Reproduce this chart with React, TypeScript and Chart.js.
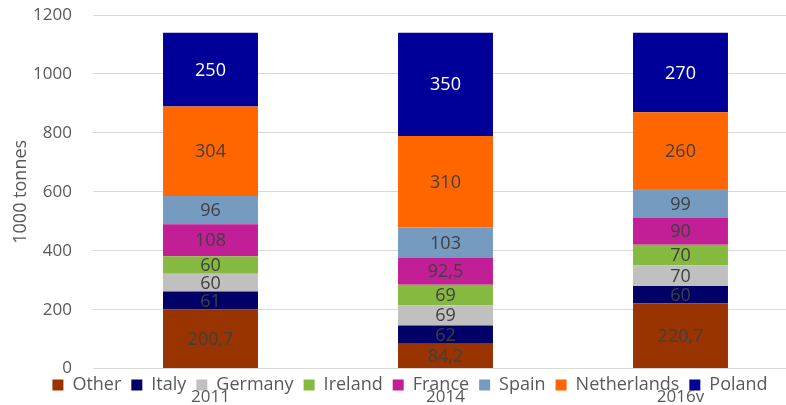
import React, { useEffect, useRef } from "react";
import { Chart, registerables } from "chart.js";

Chart.register(...registerables);

const categories = ["2011", "2014", "2016v"];
const seriesNames = ["Other", "Italy", "Germany", "Ireland", "France", "Spain", "Netherlands", "Poland"];
const otherValues = [200.7, 84.2, 220.7];
const italyValues = [61, 62, 60];
const germanyValues = [60, 69, 70];
const irelandValues = [60, 69, 70];
const franceValues = [108, 92.5, 90];
const spainValues = [96, 103, 99];
const netherlandsValues = [304, 310, 260];
const polandValues = [250, 350, 270];
const yTicks = [0, 200, 400, 600, 800, 1000, 1200];

const seriesValues = [
  otherValues, italyValues, germanyValues, irelandValues,
  franceValues, spainValues, netherlandsValues, polandValues,
];
const seriesColors = ["#993300", "#000066", "#C0C0C0", "#86B93F", "#C21F96", "#759BC0", "#FF6600", "#000099"];
const labelColors = ["#404040", "#404040", "#404040", "#404040", "#404040", "#404040", "#404040", "#FFFFFF"];

const FONT = "'Open Sans', sans-serif";
const CANVAS_W = 800;
const CANVAS_H = 465;
const LEGEND_TOP = 366;
const LEGEND_SHIFT_X = 11;
const Y_AXIS_WIDTH = 93;

const fmt = (v: number) => String(v).replace(".", ",");

const barLabels = {
  id: "barLabels",
  afterDatasetsDraw(chart: any) {
    const ctx = chart.ctx;
    ctx.save();
    ctx.font = `18px ${FONT}`;
    ctx.textAlign = "center";
    ctx.textBaseline = "middle";
    chart.data.datasets.forEach((ds: any, i: number) => {
      const meta = chart.getDatasetMeta(i);
      meta.data.forEach((bar: any, j: number) => {
        const p = bar.getProps(["x", "y", "base"], true);
        ctx.fillStyle = labelColors[i];
        ctx.fillText(fmt(ds.data[j]), p.x, (p.y + p.base) / 2 + 1);
      });
    });
    ctx.restore();
  },
};

const legendMove = {
  id: "legendMove",
  afterLayout(chart: any) {
    const lg = chart.legend;
    if (!lg) return;
    const dy = LEGEND_TOP - lg.top;
    lg.top += dy;
    lg.bottom += dy;
    lg.left += LEGEND_SHIFT_X;
    lg.right += LEGEND_SHIFT_X;
  },
};

export default function App() {
  const ref = useRef<HTMLCanvasElement>(null);
  useEffect(() => {
    if (!ref.current) return;
    const chart = new Chart(ref.current, {
      type: "bar",
      data: {
        labels: categories,
        datasets: seriesNames.map((name, i) => ({
          label: name,
          data: seriesValues[i],
          backgroundColor: seriesColors[i],
          borderWidth: 0,
          categoryPercentage: 1,
          barPercentage: 0.404,
        })),
      },
      options: {
        responsive: false,
        animation: false,
        layout: { padding: { top: 15, right: 2, bottom: 2, left: 0 } },
        plugins: {
          tooltip: { enabled: false },
          legend: {
            position: "bottom",
            labels: {
              boxWidth: 11,
              boxHeight: 11,
              padding: 10,
              color: "#595959",
              font: { family: FONT, size: 18 },
            },
          },
        },
        scales: {
          x: {
            stacked: true,
            grid: { display: false, drawTicks: false },
            border: { display: false },
            ticks: { color: "#595959", font: { family: FONT, size: 17 }, padding: 18 },
          },
          y: {
            stacked: true,
            min: 0,
            max: 1200,
            afterBuildTicks: (scale: any) => {
              scale.ticks = yTicks.map((v) => ({ value: v }));
            },
            afterFit: (scale: any) => {
              scale.width = Y_AXIS_WIDTH;
            },
            grid: {
              color: "#D9D9D9",
              lineWidth: 1,
              drawTicks: true,
              tickLength: 21,
              tickColor: "rgba(0,0,0,0)",
            },
            border: { display: false },
            ticks: {
              color: "#595959",
              font: { family: FONT, size: 17 },
              padding: 0,
              callback: (v: any) => String(v),
            },
            title: {
              display: true,
              text: "1000 tonnes",
              color: "#595959",
              font: { family: FONT, size: 18 },
              padding: { top: 10, bottom: 0 },
            },
          },
        },
      },
      plugins: [barLabels, legendMove],
    });
    return () => chart.destroy();
  }, []);
  return (
    <div
      style={{
        position: "fixed",
        left: 0,
        top: 0,
        width: 786,
        height: 405,
        overflow: "hidden",
        background: "#ffffff",
      }}
    >
      <canvas ref={ref} width={CANVAS_W} height={CANVAS_H} style={{ display: "block" }} />
    </div>
  );
}
